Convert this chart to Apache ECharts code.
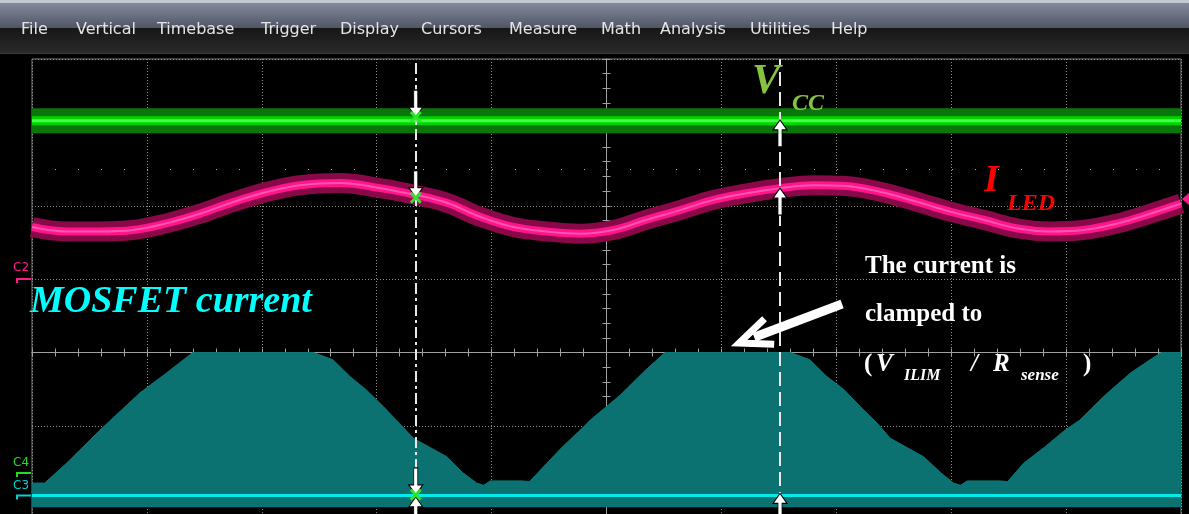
<!DOCTYPE html>
<html>
<head>
<meta charset="utf-8">
<script src="https://cdn.jsdelivr.net/npm/echarts@6/dist/echarts.min.js"></script>
<style>
  html, body { margin: 0; padding: 0; background: #000; }
  #scope { width: 1189px; height: 514px; }
</style>
</head>
<body>
<div id="scope"></div>
<script>
// Screen units: horizontal divisions -5 … 5, vertical divisions -4 … 4 (centre = 0,0)

const menuItems = ['File', 'Vertical', 'Timebase', 'Trigger', 'Display', 'Cursors',
                   'Measure', 'Math', 'Analysis', 'Utilities', 'Help'];

// C4: supply voltage trace (flat)
const vccTime  = [-5, 5];
const vccLevel = [3.16, 3.16];

// C2: LED current trace
const ledTime = [-5, -4.70, -4.41, -4.12, -3.83, -3.54, -3.25, -2.95, -2.67, -2.32,
                 -1.97, -1.67, -1.39, -1.10, -0.81, -0.52, -0.23, 0.06, 0.35, 0.64,
                 0.93, 1.22, 1.51, 1.80, 2.08, 2.38, 2.69, 2.99, 3.28, 3.58,
                 3.86, 4.15, 4.45, 4.73, 5.0];
const ledCurrent = [1.71, 1.65, 1.65, 1.67, 1.76, 1.89, 2.05, 2.19, 2.28, 2.31,
                    2.24, 2.15, 2.04, 1.85, 1.71, 1.65, 1.62, 1.67, 1.81, 1.94,
                    2.08, 2.17, 2.24, 2.28, 2.27, 2.19, 2.06, 1.92, 1.81, 1.69,
                    1.65, 1.67, 1.76, 1.89, 2.03];

// C3: MOSFET current — switching envelope (upper edge), baseline and lower edge
const fetTime = [-5, -4.89, -4.70, -4.41, -4.06, -3.83, -3.60, -2.55, -2.38, -2.23,
                 -2.09, -1.94, -1.80, -1.68, -1.39, -1.25, -1.13, -1.07, -1.01, -0.73,
                 -0.67, -0.52, -0.38, -0.23, -0.14, 0.12, 0.34, 0.51, 1.60, 1.77,
                 1.92, 2.07, 2.21, 2.36, 2.47, 2.76, 2.91, 3.02, 3.08, 3.14,
                 3.43, 3.49, 3.63, 3.82, 3.99, 4.12, 4.34, 4.56, 4.73, 4.83, 5.0];
const fetEnvelope = [-1.78, -1.78, -1.51, -1.06, -0.55, -0.28, 0, 0, -0.10, -0.33,
                     -0.51, -0.74, -0.97, -1.17, -1.42, -1.64, -1.78, -1.81, -1.75, -1.75,
                     -1.76, -1.51, -1.28, -1.06, -0.92, -0.58, -0.24, 0, 0, -0.10,
                     -0.33, -0.51, -0.74, -0.97, -1.17, -1.42, -1.64, -1.78, -1.81, -1.75,
                     -1.75, -1.76, -1.51, -1.28, -1.06, -0.92, -0.58, -0.28, -0.10, 0, 0];
const fetBaseline = -1.948;
const fetFloor = -2.11;

// Cursor positions and the trace levels they mark
const cursorTimes = [-1.66, 1.51];
const cursorAMarks = [3.21, 2.11, -1.94];
const cursorBMarks = [3.17, 2.24, -1.92];
const cursorBottomMark = -1.97;

// Annotation arrow: tail (x, y) and tip (x, y)
const noteArrow = [[2.05, 0.66, 1.155, 0.13]];

const zip = (xs, ys) => xs.map((x, i) => [x, ys[i]]);

const gridGray = '#8c8c8c';
const axisGray = '#a0a0a0';
const serif = '"Liberation Serif", "Times New Roman", serif';
const sans = '"DejaVu Sans", "Liberation Sans", sans-serif';

function xAxisCfg(pos, withGrid) {
  return {
    type: 'value', min: -5, max: 5, interval: 1, position: pos,
    axisLine: { show: true, onZero: true, lineStyle: { color: axisGray, width: 1 } },
    axisTick: { show: true, length: 4, lineStyle: { color: axisGray } },
    minorTick: { show: true, splitNumber: 5, length: 4, lineStyle: { color: axisGray } },
    axisLabel: { show: false },
    splitLine: { show: withGrid, lineStyle: { color: gridGray, type: [1, 2], width: 1 } }
  };
}
function yAxisCfg(pos, withGrid) {
  return {
    type: 'value', min: -4, max: 4, interval: 1, position: pos,
    axisLine: { show: true, onZero: true, lineStyle: { color: axisGray, width: 1 } },
    axisTick: { show: true, length: 4, lineStyle: { color: axisGray } },
    minorTick: { show: true, splitNumber: 5, length: 4, lineStyle: { color: axisGray } },
    axisLabel: { show: false },
    splitLine: { show: withGrid, lineStyle: { color: gridGray, type: [1, 2], width: 1 } }
  };
}

const downArrow = 'path://M5,0 L9,0 L9,17 L14,17 L7,27 L0,17 L5,17 Z';
const upArrow = 'path://M7,0 L14,10 L9,10 L9,27 L5,27 L5,10 L0,10 Z';
const crossMark = 'path://M0,2 L2,0 L6,4 L10,0 L12,2 L8,6 L12,10 L10,12 L6,8 L2,12 L0,10 L4,6 Z';

function lineSeries(data, color, width, z, smooth) {
  return {
    type: 'line', data: data, symbol: 'none', smooth: smooth || false, z: z,
    lineStyle: { color: color, width: width }, silent: true
  };
}

// ---- menu bar + labels
const graphics = [
  { type: 'rect', shape: { x: 0, y: 0, width: 1189, height: 3 }, style: { fill: '#c4c8d0' } },
  { type: 'rect', shape: { x: 0, y: 3, width: 1189, height: 25 },
    style: { fill: new echarts.graphic.LinearGradient(0, 0, 0, 1, [
      { offset: 0, color: '#838a9c' }, { offset: 1, color: '#4f5565' }]) } },
  { type: 'rect', shape: { x: 0, y: 28, width: 1189, height: 25 },
    style: { fill: new echarts.graphic.LinearGradient(0, 0, 0, 1, [
      { offset: 0, color: '#161616' }, { offset: 1, color: '#2a2a2a' }]) } },
  { type: 'rect', shape: { x: 0, y: 53, width: 1189, height: 1 }, style: { fill: '#3a3a3a' } }
];
const menuX = [21, 76, 157, 261, 340, 421, 509, 601, 660, 750, 831];
menuItems.forEach((m, i) => graphics.push({
  type: 'text', z: 100,
  style: { text: m, x: menuX[i], y: 29.5, fill: '#e4e4e4', font: '16px ' + sans,
           textAlign: 'left', textVerticalAlign: 'middle' }
}));

function txt(t, x, y, size, color, style) {
  graphics.push({
    type: 'text', z: 100,
    style: { text: t, x: x, y: y, fill: color, font: (style || 'bold italic') + ' ' + size + 'px ' + serif,
             textAlign: 'left', textVerticalAlign: 'middle' }
  });
}
txt('MOSFET current', 30, 302.5, 38, '#00ffff');
txt('V', 752, 82, 42, '#86c440');
txt('CC', 792, 104, 24, '#86c440');
txt('I', 984, 181, 38, '#ff0000');
txt('LED', 1007, 204, 24, '#ff0000');
txt('The current is', 865, 266.5, 25, '#ffffff', 'bold');
txt('clamped to', 865, 314.5, 25, '#ffffff', 'bold');
txt('(', 864, 364.5, 25, '#ffffff', 'bold');
txt('V', 876, 364.5, 25, '#ffffff');
txt('ILIM', 904, 375.5, 16, '#ffffff');
txt('/', 971, 364.5, 25, '#ffffff');
txt('R', 993, 364.5, 25, '#ffffff');
txt('sense', 1021, 375.5, 17, '#ffffff');
txt(')', 1083, 364.5, 25, '#ffffff', 'bold');

// channel tags at the left edge
function tag(name, color, labelY, markY) {
  graphics.push({ type: 'text', z: 100,
    style: { text: name, x: 13, y: labelY, fill: color, font: '12px ' + sans,
             textAlign: 'left', textVerticalAlign: 'middle' } });
  graphics.push({ type: 'polyline', z: 100,
    shape: { points: [[17, markY + 4], [17, markY], [31, markY]] },
    style: { stroke: color, lineWidth: 2, fill: null } });
}
tag('C2', '#ff1a8c', 268, 279);
tag('C4', '#22dd22', 463, 473);
tag('C3', '#00d2d2', 486, 495.5);
// trigger level marker on the right edge
graphics.push({ type: 'polygon', z: 100,
  shape: { points: [[1182, 199], [1189, 193], [1189, 205]] }, style: { fill: '#ff1a8c' } });

const chart = echarts.init(document.getElementById('scope'), null, { renderer: 'canvas' });
chart.setOption({
  animation: false,
  backgroundColor: '#000',
  grid: { left: 32, top: 59, width: 1149, height: 587, show: true,
          outerBoundsMode: 'none', containLabel: false,
          borderColor: '#7c7c7c', borderWidth: 1, backgroundColor: 'transparent' },
  xAxis: [xAxisCfg('bottom', true), xAxisCfg('top', false)],
  yAxis: [yAxisCfg('left', true), yAxisCfg('right', false)],
  graphic: { elements: graphics },
  series: [
    // C4 supply
    Object.assign(lineSeries(zip(vccTime, vccLevel), '#0a760a', 25, 2), {
      markLine: { silent: true, symbol: ['none', 'none'], label: { show: false },
        lineStyle: { color: '#b0b0b0', width: 1, type: [1, 22] },
        data: [{ yAxis: 2.5 }] }
    }),
    lineSeries(zip(vccTime, vccLevel), '#00d400', 9, 3),
    lineSeries(zip(vccTime, vccLevel), '#44ff44', 3, 3),
    // C2 LED current
    lineSeries(zip(ledTime, ledCurrent), '#880848', 20, 2, 0.4),
    lineSeries(zip(ledTime, ledCurrent), '#ff148c', 8, 3, 0.4),
    lineSeries(zip(ledTime, ledCurrent), '#ff55ad', 2, 3, 0.4),
    // C3 MOSFET current envelope
    {
      type: 'line', data: zip(fetTime, fetEnvelope), symbol: 'none', z: 2, silent: true,
      lineStyle: { color: '#0e7777', width: 1 },
      areaStyle: { color: '#0b7171', opacity: 1, origin: fetFloor }
    },
    Object.assign(lineSeries([[-5, fetBaseline], [5, fetBaseline]], '#00ecec', 3, 4), {
      markLine: { silent: true, symbol: ['none', 'none'], label: { show: false },
        lineStyle: { color: '#e8e8e8', width: 2 },
        data: [
          { xAxis: cursorTimes[0], lineStyle: { type: [11, 4, 3, 4] } },
          { xAxis: cursorTimes[1], lineStyle: { type: [14, 6] } }
        ] }
    }),
    // cursor markers
    {
      type: 'scatter', z: 6, silent: true, symbol: downArrow, symbolSize: [14, 27],
      symbolOffset: [0, '-50%'],
      itemStyle: { color: '#ffffff', borderColor: '#000', borderWidth: 1, opacity: 1 },
      data: cursorAMarks.map(v => [cursorTimes[0], v])
    },
    {
      type: 'scatter', z: 6, silent: true, symbol: upArrow, symbolSize: [14, 27],
      symbolOffset: [0, '50%'],
      itemStyle: { color: '#ffffff', borderColor: '#000', borderWidth: 1, opacity: 1 },
      data: cursorBMarks.map(v => [cursorTimes[1], v]).concat([[cursorTimes[0], cursorBottomMark]])
    },
    {
      type: 'scatter', z: 7, silent: true, symbol: crossMark, symbolSize: 12,
      itemStyle: { color: '#2fe42f', opacity: 1 },
      data: cursorAMarks.map(v => [cursorTimes[0], v])
    },
    // annotation arrow
    {
      type: 'custom', coordinateSystem: 'cartesian2d', z: 8, silent: true,
      data: noteArrow,
      renderItem: function (params, api) {
        const tail = api.coord([api.value(0), api.value(1)]);
        const tip = api.coord([api.value(2), api.value(3)]);
        const ang = Math.atan2(tail[1] - tip[1], tail[0] - tip[0]);
        const arm = 35, spread = 0.40;
        const a1 = [tip[0] + arm * Math.cos(ang - spread), tip[1] + arm * Math.sin(ang - spread)];
        const a2 = [tip[0] + arm * Math.cos(ang + spread), tip[1] + arm * Math.sin(ang + spread)];
        const shaftEnd = [tip[0] + 16 * Math.cos(ang), tip[1] + 16 * Math.sin(ang)];
        return {
          type: 'group',
          children: [
            { type: 'polyline', shape: { points: [tail, shaftEnd] },
              style: { stroke: '#ffffff', lineWidth: 9, fill: null } },
            { type: 'polyline', shape: { points: [a1, tip, a2] },
              style: { stroke: '#ffffff', lineWidth: 7, lineJoin: 'miter', fill: null } }
          ]
        };
      }
    }
  ]
});
</script>
</body>
</html>
